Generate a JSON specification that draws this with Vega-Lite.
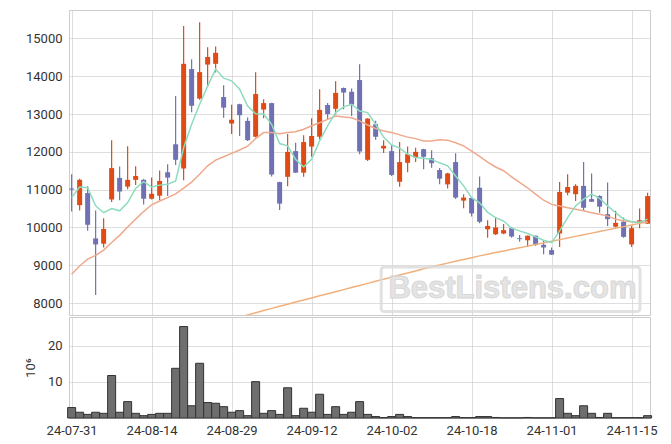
{
  "$schema": "https://vega.github.io/schema/vega-lite/v6.json",
  "padding": {"left": 23, "top": 9, "right": 5, "bottom": 5},
  "spacing": 0,
  "config": {
    "font": "Roboto",
    "view": {"stroke": "#cccccc", "strokeWidth": 1},
    "axis": {"labelFont": "Roboto", "labelFontSize": 13, "labelColor": "#333333", "gridColor": "#c8c8c8", "gridOpacity": 0.6, "domain": false, "ticks": false, "labelPadding": 7, "zindex": 1}
  },
  "datasets": {
    "px": [
      {"i":0,"date":"2024-07-31","open":11030,"high":11410,"low":10420,"close":11000,"vol":2.9,"ma5":10790,"ma20":8760,"maL":null},
      {"i":1,"date":"2024-08-01","open":10590,"high":11290,"low":10450,"close":11260,"vol":1.6,"ma5":11070,"ma20":8980,"maL":null},
      {"i":2,"date":"2024-08-02","open":10910,"high":11090,"low":9910,"close":10070,"vol":1.0,"ma5":11050,"ma20":9160,"maL":null},
      {"i":3,"date":"2024-08-05","open":9710,"high":10450,"low":8210,"close":9550,"vol":1.6,"ma5":10570,"ma20":9260,"maL":null},
      {"i":4,"date":"2024-08-06","open":9570,"high":10240,"low":9470,"close":9960,"vol":1.3,"ma5":10390,"ma20":9400,"maL":null},
      {"i":5,"date":"2024-08-07","open":10740,"high":12310,"low":10670,"close":11570,"vol":11.8,"ma5":10500,"ma20":9600,"maL":null},
      {"i":6,"date":"2024-08-08","open":11310,"high":11610,"low":10720,"close":10950,"vol":1.6,"ma5":10440,"ma20":9790,"maL":null},
      {"i":7,"date":"2024-08-09","open":11080,"high":12150,"low":11010,"close":11260,"vol":4.55,"ma5":10660,"ma20":10010,"maL":null},
      {"i":8,"date":"2024-08-12","open":11260,"high":11620,"low":11120,"close":11360,"vol":1.3,"ma5":11030,"ma20":10220,"maL":null},
      {"i":9,"date":"2024-08-13","open":11260,"high":11280,"low":10610,"close":10760,"vol":0.65,"ma5":11210,"ma20":10420,"maL":null},
      {"i":10,"date":"2024-08-14","open":10760,"high":11320,"low":10740,"close":10890,"vol":1.0,"ma5":11070,"ma20":10600,"maL":null},
      {"i":11,"date":"2024-08-16","open":10840,"high":11510,"low":10720,"close":11230,"vol":1.3,"ma5":11120,"ma20":10700,"maL":null},
      {"i":12,"date":"2024-08-19","open":11460,"high":11670,"low":10830,"close":11320,"vol":1.3,"ma5":11140,"ma20":10790,"maL":null},
      {"i":13,"date":"2024-08-20","open":12200,"high":13480,"low":11650,"close":11790,"vol":13.8,"ma5":11230,"ma20":10890,"maL":null},
      {"i":14,"date":"2024-08-21","open":11560,"high":15330,"low":11250,"close":14330,"vol":25.4,"ma5":12110,"ma20":11040,"maL":null},
      {"i":15,"date":"2024-08-22","open":14190,"high":14450,"low":13050,"close":13220,"vol":3.4,"ma5":12730,"ma20":11200,"maL":null},
      {"i":16,"date":"2024-08-23","open":13410,"high":15430,"low":13380,"close":14110,"vol":15.2,"ma5":13260,"ma20":11410,"maL":null},
      {"i":17,"date":"2024-08-26","open":14310,"high":14770,"low":13720,"close":14510,"vol":4.3,"ma5":13740,"ma20":11630,"maL":null},
      {"i":18,"date":"2024-08-27","open":14330,"high":14790,"low":14100,"close":14620,"vol":4.1,"ma5":14190,"ma20":11780,"maL":null},
      {"i":19,"date":"2024-08-28","open":13450,"high":13760,"low":12900,"close":13170,"vol":3.15,"ma5":13950,"ma20":11870,"maL":null},
      {"i":20,"date":"2024-08-29","open":12750,"high":13250,"low":12470,"close":12850,"vol":1.6,"ma5":13880,"ma20":11960,"maL":null},
      {"i":21,"date":"2024-08-30","open":13260,"high":13270,"low":12420,"close":12970,"vol":2.05,"ma5":13660,"ma20":12050,"maL":7620},
      {"i":22,"date":"2024-09-02","open":12820,"high":12910,"low":12290,"close":12310,"vol":0.65,"ma5":13210,"ma20":12150,"maL":7685},
      {"i":23,"date":"2024-09-03","open":12400,"high":14110,"low":12380,"close":13530,"vol":10.1,"ma5":13010,"ma20":12350,"maL":7745},
      {"i":24,"date":"2024-09-04","open":13120,"high":13390,"low":12890,"close":13290,"vol":1.3,"ma5":13000,"ma20":12510,"maL":7802},
      {"i":25,"date":"2024-09-05","open":13290,"high":13300,"low":11350,"close":11400,"vol":2.05,"ma5":12730,"ma20":12510,"maL":7858},
      {"i":26,"date":"2024-09-06","open":11200,"high":11210,"low":10460,"close":10630,"vol":1.0,"ma5":12220,"ma20":12480,"maL":7914},
      {"i":27,"date":"2024-09-09","open":11340,"high":12470,"low":11090,"close":12000,"vol":8.4,"ma5":12160,"ma20":12510,"maL":7970},
      {"i":28,"date":"2024-09-10","open":12020,"high":12240,"low":11440,"close":11450,"vol":0.65,"ma5":11800,"ma20":12530,"maL":8025},
      {"i":29,"date":"2024-09-11","open":11450,"high":12440,"low":11340,"close":12260,"vol":2.7,"ma5":11600,"ma20":12600,"maL":8080},
      {"i":30,"date":"2024-09-12","open":12140,"high":12890,"low":11870,"close":12420,"vol":1.6,"ma5":11800,"ma20":12690,"maL":8135},
      {"i":31,"date":"2024-09-13","open":12400,"high":13660,"low":12330,"close":13110,"vol":6.6,"ma5":12290,"ma20":12770,"maL":8190},
      {"i":32,"date":"2024-09-19","open":13240,"high":13290,"low":12860,"close":13000,"vol":1.0,"ma5":12690,"ma20":12860,"maL":8245},
      {"i":33,"date":"2024-09-20","open":13140,"high":13870,"low":12990,"close":13560,"vol":3.15,"ma5":13040,"ma20":12950,"maL":8300},
      {"i":34,"date":"2024-09-23","open":13690,"high":13700,"low":13130,"close":13570,"vol":1.0,"ma5":13190,"ma20":12920,"maL":8355},
      {"i":35,"date":"2024-09-24","open":13590,"high":13680,"low":12950,"close":13250,"vol":1.6,"ma5":13260,"ma20":12900,"maL":8410},
      {"i":36,"date":"2024-09-25","open":13900,"high":14320,"low":11940,"close":12010,"vol":4.55,"ma5":13080,"ma20":12820,"maL":8465},
      {"i":37,"date":"2024-09-26","open":11790,"high":12890,"low":11760,"close":12880,"vol":1.0,"ma5":13040,"ma20":12710,"maL":8520},
      {"i":38,"date":"2024-09-27","open":12730,"high":12820,"low":12320,"close":12400,"vol":0.4,"ma5":12730,"ma20":12620,"maL":8575},
      {"i":39,"date":"2024-09-30","open":12090,"high":12310,"low":11970,"close":12160,"vol":0.1,"ma5":12390,"ma20":12550,"maL":8630},
      {"i":40,"date":"2024-10-02","open":12020,"high":12180,"low":11360,"close":11390,"vol":0.4,"ma5":12180,"ma20":12510,"maL":8685},
      {"i":41,"date":"2024-10-04","open":11210,"high":12260,"low":11080,"close":11730,"vol":1.0,"ma5":12100,"ma20":12450,"maL":8740},
      {"i":42,"date":"2024-10-07","open":11710,"high":12140,"low":11460,"close":11940,"vol":0.4,"ma5":11940,"ma20":12390,"maL":8795},
      {"i":43,"date":"2024-10-08","open":11850,"high":12110,"low":11730,"close":12000,"vol":0.1,"ma5":11850,"ma20":12350,"maL":8850},
      {"i":44,"date":"2024-10-10","open":12070,"high":12080,"low":11540,"close":11870,"vol":0.1,"ma5":11830,"ma20":12290,"maL":8905},
      {"i":45,"date":"2024-10-11","open":11830,"high":12040,"low":11580,"close":11700,"vol":0.1,"ma5":11800,"ma20":12290,"maL":8960},
      {"i":46,"date":"2024-10-14","open":11520,"high":11570,"low":11140,"close":11290,"vol":0.1,"ma5":11710,"ma20":12320,"maL":9008},
      {"i":47,"date":"2024-10-15","open":11140,"high":11450,"low":11030,"close":11430,"vol":0.1,"ma5":11630,"ma20":12310,"maL":9056},
      {"i":48,"date":"2024-10-16","open":11730,"high":11960,"low":10750,"close":10790,"vol":0.4,"ma5":11360,"ma20":12240,"maL":9104},
      {"i":49,"date":"2024-10-17","open":10710,"high":10880,"low":10510,"close":10790,"vol":0.1,"ma5":11100,"ma20":12160,"maL":9152},
      {"i":50,"date":"2024-10-18","open":10780,"high":10790,"low":10290,"close":10370,"vol":0.1,"ma5":10790,"ma20":12020,"maL":9200},
      {"i":51,"date":"2024-10-21","open":11050,"high":11350,"low":10110,"close":10150,"vol":0.4,"ma5":10650,"ma20":11880,"maL":9248},
      {"i":52,"date":"2024-10-22","open":9950,"high":10190,"low":9730,"close":10040,"vol":0.4,"ma5":10400,"ma20":11730,"maL":9291},
      {"i":53,"date":"2024-10-23","open":9820,"high":10260,"low":9800,"close":10000,"vol":0.15,"ma5":10260,"ma20":11600,"maL":9334},
      {"i":54,"date":"2024-10-24","open":9840,"high":10090,"low":9820,"close":9930,"vol":0.05,"ma5":10170,"ma20":11500,"maL":9377},
      {"i":55,"date":"2024-10-25","open":9980,"high":10010,"low":9730,"close":9760,"vol":0.05,"ma5":9980,"ma20":11340,"maL":9420},
      {"i":56,"date":"2024-10-28","open":9715,"high":9800,"low":9620,"close":9690,"vol":0.05,"ma5":9910,"ma20":11190,"maL":9463},
      {"i":57,"date":"2024-10-29","open":9660,"high":9790,"low":9480,"close":9780,"vol":0.15,"ma5":9840,"ma20":11050,"maL":9506},
      {"i":58,"date":"2024-10-30","open":9780,"high":9790,"low":9510,"close":9540,"vol":0.05,"ma5":9750,"ma20":10880,"maL":9549},
      {"i":59,"date":"2024-10-31","open":9540,"high":9640,"low":9290,"close":9470,"vol":0.05,"ma5":9660,"ma20":10720,"maL":9592},
      {"i":60,"date":"2024-11-01","open":9400,"high":9470,"low":9270,"close":9280,"vol":0.05,"ma5":9600,"ma20":10610,"maL":9635},
      {"i":61,"date":"2024-11-04","open":9840,"high":11200,"low":9480,"close":10940,"vol":5.4,"ma5":9910,"ma20":10570,"maL":9678},
      {"i":62,"date":"2024-11-05","open":10920,"high":11410,"low":10850,"close":11070,"vol":1.3,"ma5":10260,"ma20":10520,"maL":9721},
      {"i":63,"date":"2024-11-06","open":10880,"high":11140,"low":10700,"close":11100,"vol":0.65,"ma5":10570,"ma20":10480,"maL":9764},
      {"i":64,"date":"2024-11-07","open":11100,"high":11730,"low":10440,"close":10520,"vol":3.4,"ma5":10750,"ma20":10440,"maL":9807},
      {"i":65,"date":"2024-11-08","open":10750,"high":11430,"low":10670,"close":10680,"vol":1.3,"ma5":10880,"ma20":10390,"maL":9850},
      {"i":66,"date":"2024-11-11","open":10830,"high":10850,"low":10390,"close":10550,"vol":0.15,"ma5":10770,"ma20":10350,"maL":9893},
      {"i":67,"date":"2024-11-12","open":10350,"high":11190,"low":10040,"close":10220,"vol":1.3,"ma5":10570,"ma20":10300,"maL":9936},
      {"i":68,"date":"2024-11-13","open":10020,"high":10440,"low":10000,"close":10120,"vol":0.1,"ma5":10390,"ma20":10220,"maL":9979},
      {"i":69,"date":"2024-11-14","open":10150,"high":10260,"low":9730,"close":9750,"vol":0.1,"ma5":10220,"ma20":10170,"maL":10022},
      {"i":70,"date":"2024-11-15","open":9550,"high":10040,"low":9480,"close":9980,"vol":0.1,"ma5":10150,"ma20":10150,"maL":10065},
      {"i":71,"date":"2024-11-18","open":10130,"high":10500,"low":9980,"close":10190,"vol":0.1,"ma5":10130,"ma20":10130,"maL":10108},
      {"i":72,"date":"2024-11-19","open":10100,"high":10920,"low":10090,"close":10830,"vol":0.65,"ma5":10220,"ma20":10130,"maL":10151}
    ]
  },
  "vconcat": [
    {
      "width": 581,
      "height": 305,
      "layer": [
        {
          "data": {"name": "px"},
          "mark": {"type": "rule", "strokeWidth": 1.2},
          "encoding": {
            "x": {"field": "i", "type": "quantitative",
                  "scale": {"domain": [-0.33, 72.3], "nice": false, "zero": false, "padding": 0},
                  "axis": {"values": [0,10,20,30,40,50,60,70], "labels": false, "ticks": false, "domain": false, "title": null, "grid": true}},
            "y": {"field": "low", "type": "quantitative",
                  "scale": {"domain": [7683, 15754], "nice": false, "zero": false},
                  "axis": {"values": [8000,9000,10000,11000,12000,13000,14000,15000], "format": "d", "title": null, "grid": true}},
            "y2": {"field": "high"},
            "color": {"condition": {"test": "datum.close >= datum.open", "value": "#e04a14"}, "value": "#6f71b4"}
          }
        },
        {
          "data": {"name": "px"},
          "mark": {"type": "bar", "size": 5},
          "encoding": {
            "x": {"field": "i", "type": "quantitative"},
            "y": {"field": "open", "type": "quantitative"},
            "y2": {"field": "close"},
            "color": {"condition": {"test": "datum.close >= datum.open", "value": "#e04a14"}, "value": "#6f71b4"}
          }
        },
        {
          "data": {"name": "px"},
          "mark": {"type": "line", "color": "#f0b07c", "strokeWidth": 1.5, "clip": true},
          "encoding": {"x": {"field": "i", "type": "quantitative"}, "y": {"field": "maL", "type": "quantitative"}}
        },
        {
          "data": {"name": "px"},
          "mark": {"type": "line", "color": "#efa88c", "strokeWidth": 1.5, "clip": true},
          "encoding": {"x": {"field": "i", "type": "quantitative"}, "y": {"field": "ma20", "type": "quantitative"}}
        },
        {
          "data": {"name": "px"},
          "mark": {"type": "line", "color": "#8ddcbf", "strokeWidth": 1.5, "clip": true},
          "encoding": {"x": {"field": "i", "type": "quantitative"}, "y": {"field": "ma5", "type": "quantitative"}}
        },
        {
          "data": {"values": [{"label": "BestListens.com"}]},
          "mark": {"type": "rect", "filled": false, "stroke": "#dcdcdc", "strokeWidth": 3, "cornerRadius": 3, "opacity": 0.85},
          "encoding": {
            "x": {"datum": 38.7, "type": "quantitative"},
            "x2": {"datum": 71.05},
            "y": {"datum": 8955, "type": "quantitative"},
            "y2": {"datum": 7773}
          }
        },
        {
          "data": {"values": [{"label": "BestListens.com"}]},
          "mark": {"type": "text", "font": "Liberation Sans", "fontWeight": "bold", "fontSize": 31, "fill": "#e2e2e2", "stroke": "#d4d4d4", "strokeWidth": 1, "opacity": 0.9, "align": "center", "baseline": "middle"},
          "encoding": {
            "x": {"datum": 55.1, "type": "quantitative"},
            "y": {"datum": 8360, "type": "quantitative"},
            "text": {"field": "label"}
          }
        }
      ]
    },
    {
      "width": 581,
      "height": 101,
      "data": {"name": "px"},
      "mark": {"type": "bar", "size": 8, "color": "#6e6e6e", "stroke": "#333333", "strokeWidth": 1},
      "encoding": {
        "x": {"field": "i", "type": "quantitative",
              "scale": {"domain": [-0.33, 72.3], "nice": false, "zero": false, "padding": 0},
              "axis": {"values": [0,10,20,30,40,50,60,70], "title": null, "grid": true, "labelPadding": 6, "labelOverlap": false, "labelBound": false, "labelFlush": false,
                       "labelExpr": "['24-07-31','24-08-14','24-08-29','24-09-12','24-10-02','24-10-18','24-11-01','24-11-15'][round(datum.value/10)]"}},
        "y": {"field": "vol", "type": "quantitative",
              "scale": {"domain": [0, 28.05], "nice": false},
              "axis": {"values": [10, 20], "title": "10⁶", "titleFont": "Roboto", "titleFontSize": 13, "titleFontWeight": "normal", "titleColor": "#333333", "titlePadding": 10, "grid": true}}
      }
    }
  ]
}
